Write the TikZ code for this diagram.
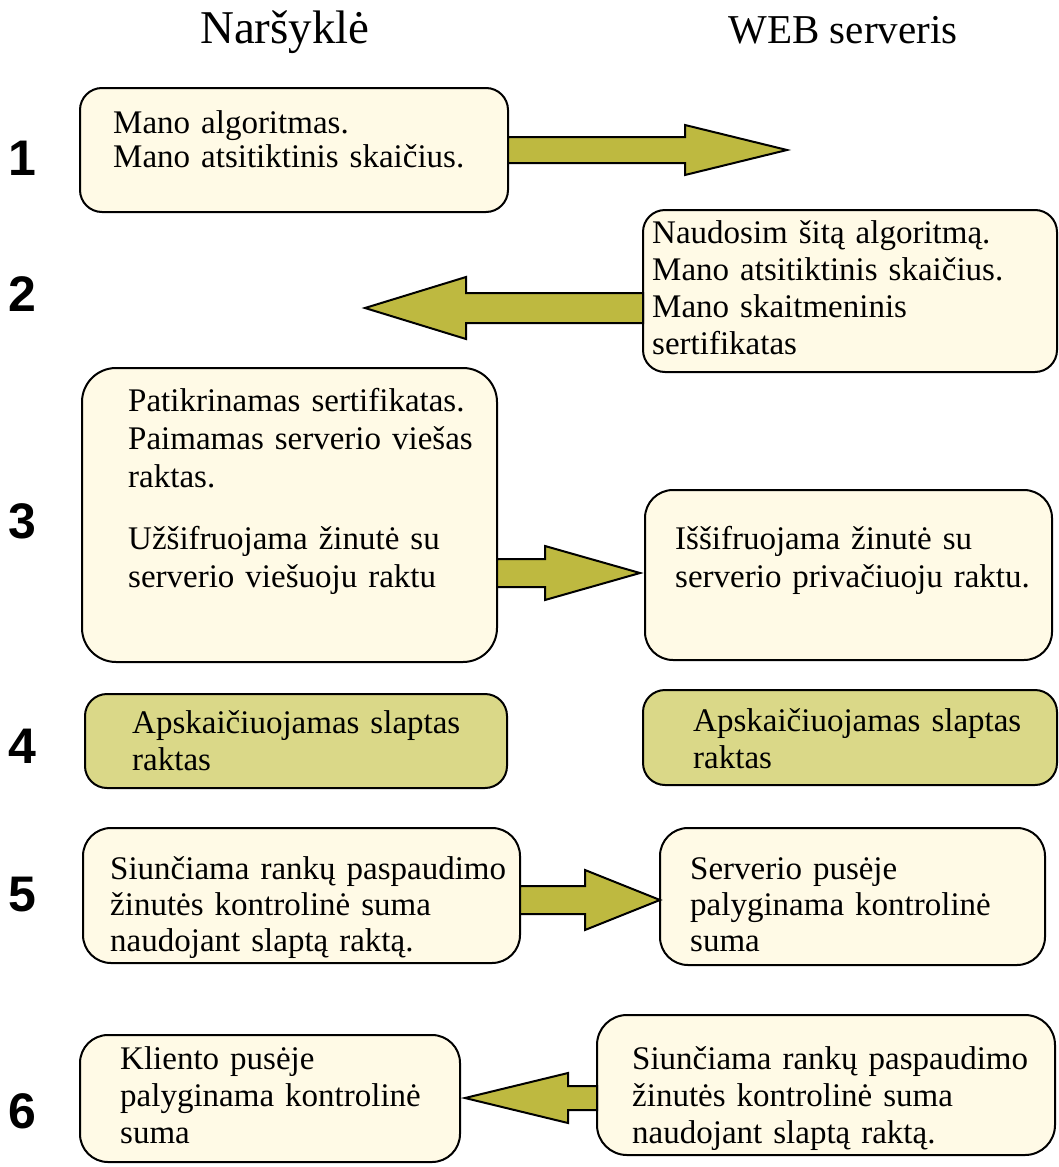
\documentclass[tikz,border=0pt]{standalone}
\usepackage{fontspec}
\setmainfont{Liberation Serif}
\newfontfamily\bodyfont{Liberation Serif}
\newfontfamily\numfont{Liberation Sans}
\usetikzlibrary{calc}

\definecolor{notefill}{RGB}{255,250,230}
\definecolor{keyfill}{RGB}{218,216,136}
\definecolor{arrowfill}{RGB}{190,185,64}

\tikzset{
  panel/.style={draw=black, line width=2pt, fill=notefill, rounded corners=22pt,
                inner sep=0pt, outer sep=0pt},
  keypanel/.style={panel, fill=keyfill},
  txt/.style={inner sep=0pt, anchor=base west, align=left, text width=440pt,
              font={\bodyfont\fontsize{33}{#1}\selectfont}},
  txt/.default=37pt,
  stepno/.style={inner sep=0pt, anchor=base,
                 font={\numfont\bfseries\fontsize{50}{50}\selectfont}},
  colhead/.style={inner sep=0pt, anchor=base},
  blockarrow/.style={draw=black, line width=2pt, fill=arrowfill, line join=miter}
}

% rounded panel from its corner coordinates (x1,y1) to (x2,y2)
\newcommand\panelbox[6]{%
  \node[#6, minimum width={(#4-#2)*1pt}, minimum height={(#5-#3)*1pt}]
    (#1) at ({(#2+#4)/2},{(#3+#5)/2}) {};}

% horizontal block arrow: start, head base, tip, shaft half-height, head half-height
\newcommand\blockarr[5]{%
  \draw[blockarrow] ($(#1)+(0,-#4)$) -- ($(#2)+(0,-#4)$) -- ($(#2)+(0,-#5)$)
    -- (#3) -- ($(#2)+(0,#5)$) -- ($(#2)+(0,#4)$) -- ($(#1)+(0,#4)$) -- cycle;}

\begin{document}
\begin{tikzpicture}[x=1pt, y=-1pt]
\useasboundingbox (0,0) rectangle (1059,1167);

% column headings
\node[colhead, font={\bodyfont\fontsize{47}{47}\selectfont}] (hleft) at (285,43) {Naršyklė};
\node[colhead, font={\bodyfont\fontsize{41}{41}\selectfont}] (hright) at (843,43) {WEB serveris};

% panels
\panelbox{b1}{80}{88}{508}{212}{panel}
\panelbox{b2}{643}{210}{1057}{372}{panel}
\panelbox{b3l}{82}{368}{497}{662}{panel, rounded corners=34pt}
\panelbox{b3r}{645}{490}{1052}{660}{panel, rounded corners=28pt}
\panelbox{b4l}{85}{694}{507}{788}{keypanel}
\panelbox{b4r}{643}{690}{1057}{785}{keypanel}
\panelbox{b5l}{83}{828}{520}{963}{panel, rounded corners=28pt}
\panelbox{b5r}{660}{828}{1045}{965}{panel, rounded corners=28pt}
\panelbox{b6l}{80}{1035}{460}{1162}{panel, rounded corners=28pt}
\panelbox{b6r}{597}{1015}{1055}{1155}{panel, rounded corners=30pt}

% panel texts
\node[txt=34pt] (t1) at (113,133) {Mano algoritmas.\\Mano atsitiktinis skaičius.};
\node[txt] (t2) at (652,243) {Naudosim šitą algoritmą.\\Mano atsitiktinis skaičius.\\Mano skaitmeninis\\sertifikatas};
\node[txt=38pt] (t3l) at (128,411) {Patikrinamas sertifikatas.\\Paimamas serverio viešas\\raktas.\\[24pt]Užšifruojama žinutė su\\serverio viešuoju raktu};
\node[txt=38pt] (t3r) at (675,549) {Iššifruojama žinutė su\\serverio privačiuoju raktu.};
\node[txt] (t4l) at (132,733) {Apskaičiuojamas slaptas\\raktas};
\node[txt] (t4r) at (693,731) {Apskaičiuojamas slaptas\\raktas};
\node[txt=36pt] (t5l) at (110,879) {Siunčiama rankų paspaudimo\\žinutės kontrolinė suma\\naudojant slaptą raktą.};
\node[txt=36pt] (t5r) at (690,879) {Serverio pusėje\\palyginama kontrolinė\\suma};
\node[txt] (t6l) at (120,1069) {Kliento pusėje\\palyginama kontrolinė\\suma};
\node[txt] (t6r) at (632,1069) {Siunčiama rankų paspaudimo\\žinutės kontrolinė suma\\naudojant slaptą raktą.};

% step numbers
\node[stepno] (n1) at (22,175) {1};
\node[stepno] (n2) at (22,311) {2};
\node[stepno] (n3) at (22,538) {3};
\node[stepno] (n4) at (22,763) {4};
\node[stepno] (n5) at (22,911) {5};
\node[stepno] (n6) at (22,1128) {6};

% arrow geometry
\coordinate (tip1) at (787,150);
\coordinate (s1) at (b1.east |- tip1);
\coordinate (h1) at (685,150);
\coordinate (tip2) at (365,308);
\coordinate (s2) at (b2.west |- tip2);
\coordinate (h2) at (466,308);
\coordinate (tip3) at (640,573);
\coordinate (s3) at (b3l.east |- tip3);
\coordinate (h3) at (545,573);
\coordinate (tip5) at (660,900);
\coordinate (s5) at (b5l.east |- tip5);
\coordinate (h5) at (585,900);
\coordinate (tip6) at (465,1098);
\coordinate (s6) at (b6r.west |- tip6);
\coordinate (h6) at (568,1098);

% block arrows
\blockarr{s1}{h1}{tip1}{13}{25}
\blockarr{s2}{h2}{tip2}{15}{31}
\blockarr{s3}{h3}{tip3}{14}{27}
\blockarr{s5}{h5}{tip5}{14}{30}
\blockarr{s6}{h6}{tip6}{12}{25}
\end{tikzpicture}
\end{document}
